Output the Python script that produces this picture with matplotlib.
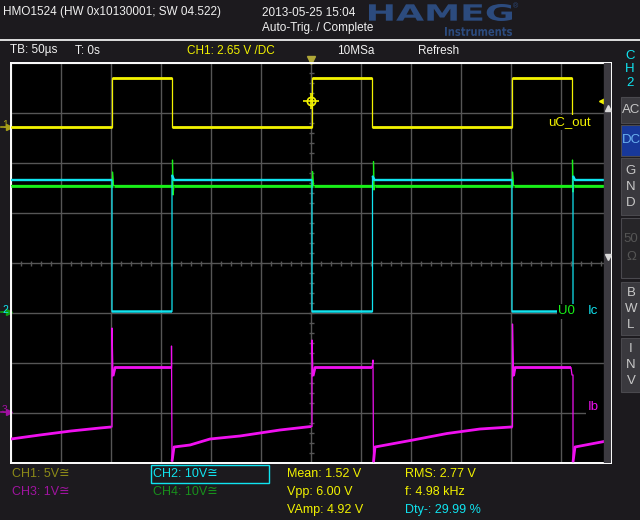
import numpy as np
import matplotlib
matplotlib.use("Agg")
from matplotlib import pyplot as plt
from matplotlib import font_manager
from matplotlib.patches import Rectangle, PathPatch
from matplotlib.textpath import TextPath
from matplotlib.transforms import Affine2D, IdentityTransform
from matplotlib.lines import Line2D

# ---- waveforms, time in us relative to the trigger ----
ch1_t = [-300, -199, -199, -139.5, -139.5, 1, 1, 61, 61, 201, 201, 261, 261, 300]
ch1_v = [0, 0, 4.95, 4.95, 0, 0, 4.95, 4.95, 0, 0, 4.95, 4.95, 0, 0]

ch2_t = [-300, -199, -199, -139, -139, -137, 1, 1, 61.5, 61.5, 63.5,
         201, 201, 262, 262, 264, 300]
ch2_v = [26.4, 26.4, 0.1, 0.1, 27.4, 26.4, 26.4, 0.1, 0.1, 27.2, 26.4,
         26.4, 0.1, 0.1, 27.2, 26.4, 26.4]

ch3_t = [-300, -271, -240, -211, -200, -199, -199, -198, -196,
         -140, -139.5, -139.5, -139, -137, -121, -101, -71, -51, -31, 0,
         1, 1, 2, 4, 61, 62, 62.5, 64, 102, 136, 169, 200,
         201.5, 201.5, 202.5, 204, 260, 261, 262, 262, 264, 293, 300]
ch3_v = [-0.54, -0.46, -0.38, -0.32, -0.30, -0.30, 1.68, 0.72, 0.89,
         0.89, 0.89, 1.32, -0.99, -0.70, -0.66, -0.54, -0.48, -0.42, -0.36, -0.29,
         -0.29, 1.44, 0.72, 0.89, 0.89, 1.04, -1.0, -0.70, -0.56, -0.43, -0.34, -0.30,
         -0.30, 1.76, 0.72, 0.89, 0.89, 0.74, 0.74, -1.0, -0.70, -0.59, -0.57]

ch4_t = [-300, -198.5, -198.5, -197.5, -138.5, -138.5, -138, -137,
         1.5, 1.5, 2.5, 62.5, 62.5, 63, 64,
         201.5, 201.5, 202.5, 261.5, 261.5, 262, 263, 300]
ch4_v = [25.3, 25.3, 28.0, 25.3, 25.3, 30.4, 23.4, 25.3,
         25.3, 28.1, 25.3, 25.3, 30.1, 24.4, 25.3,
         25.3, 28.0, 25.3, 25.3, 30.4, 24.0, 25.3, 25.3]

# volts/div and ground position (div from centre)
ch_scale = {"CH1": 5, "CH2": 10, "CH3": 1, "CH4": 10}
ch_offset = {"CH1": 2.72, "CH2": -0.98, "CH3": -2.98, "CH4": -0.98}

header_left = "HMO1524 (HW 0x10130001; SW 04.522)"
header_date = "2013-05-25 15:04"
header_state = "Auto-Trig. / Complete"
trig_level = 2.65
meas_labels = ["Mean: 1.52 V", "Vpp: 6.00 V", "VAmp: 4.92 V"]
meas_labels2 = ["RMS: 2.77 V", "f: 4.98 kHz", "Dty-: 29.99 %"]

YEL = "#f2f200"
CYA = "#10e4f0"
GRN = "#18f018"
MAG = "#f010f0"
BG = "#1c1a1e"

names = {f.name for f in font_manager.fontManager.ttflist}
if "Liberation Sans Narrow" in names:
    plt.rcParams["font.family"] = ["Liberation Sans Narrow", "DejaVu Sans"]
    fs = 10
else:
    plt.rcParams["font.family"] = ["Liberation Sans", "DejaVu Sans"]
    fs = 8.5


def fx(x):
    return x / 640


def fy(y):
    return 1 - y / 520


def div(ch, v):
    return np.asarray(v) / ch_scale[ch] + ch_offset[ch]


def flats(t, v):
    # break the polyline at the edges so the levels can be drawn thicker
    out_t, out_v = [t[0]], [v[0]]
    for i in range(1, len(t)):
        if t[i] - t[i - 1] < 1.5:
            out_t.append(np.nan)
            out_v.append(np.nan)
        out_t.append(t[i])
        out_v.append(v[i])
    return out_t, out_v


def trace(ch, t, v, color, lw, z):
    y = div(ch, v)
    ax.plot(t, y, color=color, lw=0.9, zorder=z)
    ft, fv = flats(t, list(y))
    ax.plot(ft, fv, color=color, lw=lw, solid_capstyle="butt", zorder=z)


fig = plt.figure(figsize=(6.4, 5.2), dpi=100, facecolor=BG)
ax = fig.add_axes([fx(11), fy(463), 600 / 640, 400 / 520], facecolor="black")
ax.set_xlim(-300, 300)
ax.set_ylim(-4, 4)
ax.set_xticks(np.arange(-300, 301, 50))
ax.set_yticks(np.arange(-4, 5, 1))
ax.grid(color="#565656", lw=1.0)
ax.tick_params(length=0, labelbottom=False, labelleft=False)
for s in ax.spines.values():
    s.set_color("white")
    s.set_linewidth(1.4)

# minor ticks on the centre lines
mt = np.arange(-300, 301, 10)
ax.plot(mt, np.zeros_like(mt), ls="none", marker="|", ms=3.6, color="#565656", mew=1)
my = np.arange(-4, 4.01, 0.2)
ax.plot(np.zeros_like(my), my, ls="none", marker="_", ms=3.6, color="#565656", mew=1)

# traces
trace("CH4", ch4_t, ch4_v, GRN, 2.0, 3)
trace("CH2", ch2_t, ch2_v, CYA, 1.7, 4)
trace("CH3", ch3_t, ch3_v, MAG, 2.0, 5)
trace("CH1", ch1_t, ch1_v, YEL, 2.0, 6)

# trigger crosshair
ty = trig_level / ch_scale["CH1"] + ch_offset["CH1"]
ax.plot([0], [ty], marker="o", ms=6, mfc="none", mec=YEL, mew=1.2, zorder=7)
ax.plot([0], [ty], marker="+", ms=11, color=YEL, mew=1.2, zorder=7)
ax.plot([291], [ty], marker="<", ms=4, color=YEL, zorder=7)

# trace labels, each on a black block
for x0, x1, yc in [(236, 293, 2.82), (246, 293, -0.96), (275, 293, -2.88)]:
    ax.add_patch(Rectangle((x0, yc - 0.15), x1 - x0, 0.3, fc="black", ec="none",
                           zorder=7.5))
ax.text(237, 2.82, "uC_out", color=YEL, fontsize=fs + 1, va="center", zorder=8)
ax.text(247, -0.96, "U0", color=GRN, fontsize=fs + 1, va="center", zorder=8)
ax.text(277, -0.96, "Ic", color=CYA, fontsize=fs + 1, va="center", zorder=8)
ax.text(277, -2.88, "Ib", color=MAG, fontsize=fs + 1, va="center", zorder=8)

# scroll strip at the right edge of the screen
ax.add_patch(Rectangle((293, -4), 7, 8, color="#3c3a40", zorder=9))
ax.plot([296.5], [3.1], marker="^", ms=5, color="#d8d8d8", zorder=10)
ax.plot([296.5], [0.12], marker="v", ms=5, color="#d8d8d8", zorder=10)

# trigger position marker above the grid
ax.plot([0], [4.07], marker="v", ms=6, color="#b0a838", clip_on=False)

# ground markers on the left
for ch, col, tcol, lab in [("CH1", "#a8a018", "#a8a018", "1"),
                           ("CH2", "#10a010", CYA, "2"),
                           ("CH3", "#a010a0", "#a010a0", "3")]:
    yy = ch_offset[ch]
    ax.plot([-310, -303], [yy, yy], color=col, lw=1.2, clip_on=False)
    ax.plot([-302.5], [yy], marker=">", ms=4, color=col, clip_on=False)
    fig.text(fx(2), fy(263 - yy * 50 + 3), lab, color=tcol, fontsize=fs - 1,
             va="bottom")

# header
fig.add_artist(Line2D([0, 1], [fy(39.5), fy(39.5)], color="white", lw=1.2))
fig.text(fx(3), fy(12.5), header_left, color="#f0f0f0", fontsize=fs, va="center")
fig.text(fx(262), fy(12.5), header_date, color="#f0f0f0", fontsize=fs, va="center")
fig.text(fx(262), fy(28), header_state, color="#f0f0f0", fontsize=fs, va="center")

fig.text(fx(10), fy(50.5), "TB: 50µs", color="#f0f0f0", fontsize=fs, va="center")
fig.text(fx(75), fy(50.5), "T: 0s", color="#f0f0f0", fontsize=fs, va="center")
fig.text(fx(187), fy(50.5), "CH1: %.2f V /DC" % trig_level, color=YEL,
         fontsize=fs, va="center")
fig.text(fx(337), fy(50.5), "10MSa", color="#f0f0f0", fontsize=fs, va="center")
fig.text(fx(418), fy(50.5), "Refresh", color="#f0f0f0", fontsize=fs, va="center")


def logo(text, x0, y0, w, h, weight="bold"):
    tp = TextPath((0, 0), text, size=1,
                  prop=font_manager.FontProperties(family="DejaVu Sans", weight=weight))
    ext = tp.get_extents()
    tr = (Affine2D().translate(-ext.x0, -ext.y0)
          .scale(w / ext.width, h / ext.height)
          .translate(x0, 520 - y0))
    fig.add_artist(PathPatch(tp, transform=tr + IdentityTransform(),
                             color="#2c4b7e", lw=0))


logo("HAMEG", 369, 21, 143, 17)
logo("Instruments", 445, 36, 67, 9)
fig.text(fx(513), fy(7), "®", color="#2c4b7e", fontsize=5, va="center")

# bottom status
fig.text(fx(12), fy(474), "CH1: 5V≅", color="#8c8a18", fontsize=fs + 0.5, va="center")
fig.text(fx(12), fy(492), "CH3: 1V≅", color="#a014a0", fontsize=fs + 0.5, va="center")
fig.text(fx(153), fy(474), "CH2: 10V≅", color=CYA, fontsize=fs + 0.5, va="center")
fig.text(fx(153), fy(492), "CH4: 10V≅", color="#18901c", fontsize=fs + 0.5, va="center")
fig.add_artist(Rectangle((fx(151), fy(483)), 118 / 640, 18 / 520, fill=False,
                         ec=CYA, lw=1.0, transform=fig.transFigure))
for i, s in enumerate(meas_labels):
    fig.text(fx(287), fy(474 + 18 * i), s, color=YEL, fontsize=fs + 0.5, va="center")
for i, s in enumerate(meas_labels2):
    fig.text(fx(405), fy(474 + 18 * i), s, color=CYA if i == 2 else YEL,
             fontsize=fs + 0.5, va="center")

# right side soft keys
for i, c in enumerate("CH2"):
    fig.text(fx(630), fy(56 + 13.5 * i), c, color=CYA, fontsize=fs + 1,
             ha="center", va="center")

buttons = [("AC", 97, 123, "#3a393e", "#c8c8c8"),
           ("DC", 125, 156, "#17389a", "#6ab0f0"),
           ("GND", 158, 215, "#3a393e", "#c8c8c8"),
           ("50\nΩ", 218, 278, "#262528", "#555555"),
           ("BWL", 282, 335, "#3a393e", "#c8c8c8"),
           ("INV", 338, 392, "#3a393e", "#c8c8c8")]
for lab, y0, y1, bg, tc in buttons:
    fig.add_artist(Rectangle((fx(621), fy(y1)), 20 / 640, (y1 - y0) / 520,
                             fc=bg, ec="#4a494e", lw=0.8, transform=fig.transFigure))
    if lab in ("AC", "DC"):
        fig.text(fx(631), fy((y0 + y1) / 2), lab, color=tc, fontsize=fs + 1,
                 ha="center", va="center")
    else:
        parts = lab.split("\n") if "\n" in lab else list(lab)
        n = len(parts)
        step = 18 if n == 2 else 16
        for k, p in enumerate(parts):
            yc = (y0 + y1) / 2 + (k - (n - 1) / 2) * step
            fig.text(fx(631), fy(yc), p, color=tc, fontsize=fs + 1,
                     ha="center", va="center")

fig.savefig("out.png", dpi=100, facecolor=BG)
